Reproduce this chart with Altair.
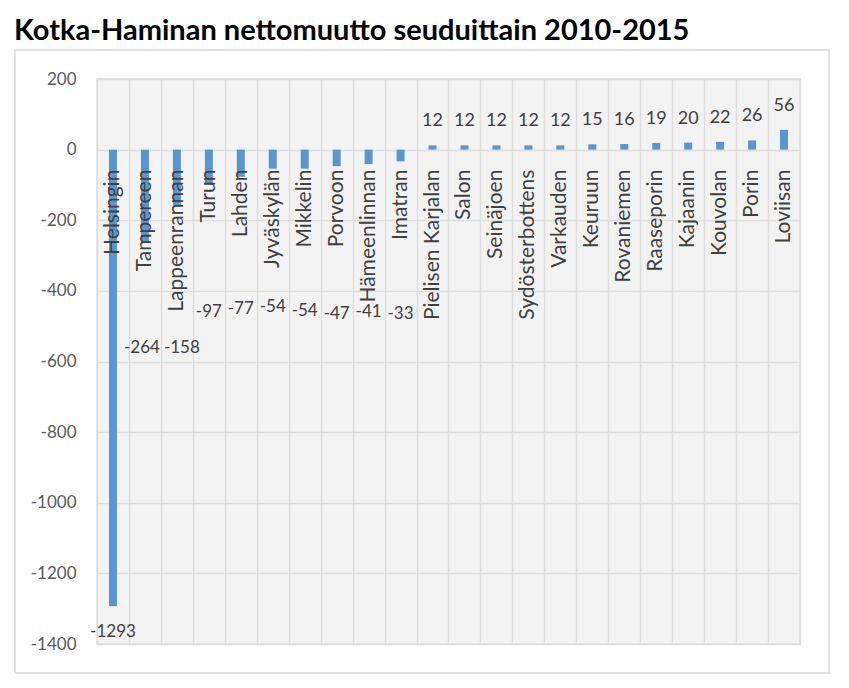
import altair as alt
import pandas as pd

categories = ["Helsingin", "Tampereen", "Lappeenrannan", "Turun", "Lahden", "Jyväskylän",
              "Mikkelin", "Porvoon", "Hämeenlinnan", "Imatran", "Pielisen Karjalan", "Salon",
              "Seinäjoen", "Sydösterbottens", "Varkauden", "Keuruun", "Rovaniemen",
              "Raaseporin", "Kajaanin", "Kouvolan", "Porin", "Loviisan"]
values = [-1293, -264, -158, -97, -77, -54, -54, -47, -41, -33, 12, 12, 12, 12, 12,
          15, 16, 19, 20, 22, 26, 56]
# where the original chart placed the labels of the negative bars (in data units)
neg_label_at = [-1367, -562, -562, -460, -452, -446, -457, -466, -460, -466]

title = "Kotka-Haminan nettomuutto seuduittain 2010-2015"
y_ticks = [200, 0, -200, -400, -600, -800, -1000, -1200, -1400]

df = pd.DataFrame({"cat": categories, "val": values})
df["lab"] = df["val"].astype(str)
neg = df[df["val"] < 0].copy()
neg["at"] = neg_label_at
pos = df[df["val"] > 0].copy()

FONT = "Lato"
TXT = "#404040"

x = alt.X("cat:N", sort=categories,
          scale=alt.Scale(paddingInner=0, paddingOuter=0),
          axis=alt.Axis(title=None, labels=False, ticks=False, domain=False,
                        grid=True, tickBand="extent", gridColor="#dedede", gridWidth=1.5))
yscale = alt.Scale(domain=[-1400, 200], nice=False, zero=False)
y = alt.Y("val:Q", scale=yscale,
          axis=alt.Axis(title=None, values=y_ticks, ticks=False, domain=False,
                        grid=True, gridColor="#dedede", gridWidth=1.5,
                        labelExpr="'' + datum.value",
                        labelFont=FONT, labelFontSize=17, labelColor="#595959",
                        labelPadding=21))

base = alt.Chart(df)
bars = base.mark_bar(size=8, color="#5b95d0").encode(x=x, y=y, y2=alt.datum(0))

cat_labels = base.mark_text(angle=270, align="right", baseline="middle", dx=-20,
                            font=FONT, fontSize=21, color=TXT).encode(
    x=alt.X("cat:N", sort=categories), y=alt.datum(0), text="cat:N")

neg_enc = dict(x=alt.X("cat:N", sort=categories), y=alt.Y("at:Q", scale=yscale),
               text="lab:N")
neg_chart = alt.Chart(neg)
neg_labels = neg_chart.mark_text(baseline="middle", font=FONT, fontSize=17,
                                 color=TXT).encode(**neg_enc).transform_filter(
    "datum.cat != 'Tampereen' && datum.cat != 'Lappeenrannan'")
neg_left = neg_chart.mark_text(baseline="middle", font=FONT, fontSize=17, dx=-3,
                               color=TXT).encode(**neg_enc).transform_filter(
    "datum.cat == 'Tampereen'")
neg_right = neg_chart.mark_text(baseline="middle", font=FONT, fontSize=17, dx=5,
                                color=TXT).encode(**neg_enc).transform_filter(
    "datum.cat == 'Lappeenrannan'")

pos_labels = alt.Chart(pos).mark_text(baseline="middle", dy=-24, font=FONT, fontSize=18,
                                      color=TXT).encode(
    x=alt.X("cat:N", sort=categories), y=alt.Y("val:Q", scale=yscale), text="lab:N")

frame = alt.Chart(pd.DataFrame({"a": [0]})).mark_rect(
    fill=None, stroke="#d9d9d9", strokeWidth=1.5).encode(
    x=alt.value(-82), x2=alt.value(732), y=alt.value(-29), y2=alt.value(594))

chart = alt.layer(frame, bars, cat_labels, neg_labels, neg_left, neg_right,
                  pos_labels).properties(
    width=703, height=565,
    autosize=alt.AutoSizeParams(type="none"),
    padding={"left": 89, "top": 71, "right": 40, "bottom": 30},
    title=alt.TitleParams(title, anchor="start", frame="group", dx=-83, offset=3,
                          font=FONT, fontSize=29, fontWeight="bold", color="#000000"),
).configure_view(fill="#f3f3f3", stroke="#dedede", strokeWidth=1.5)

chart.save("out.html", embed_options={"renderer": "svg", "actions": False})
